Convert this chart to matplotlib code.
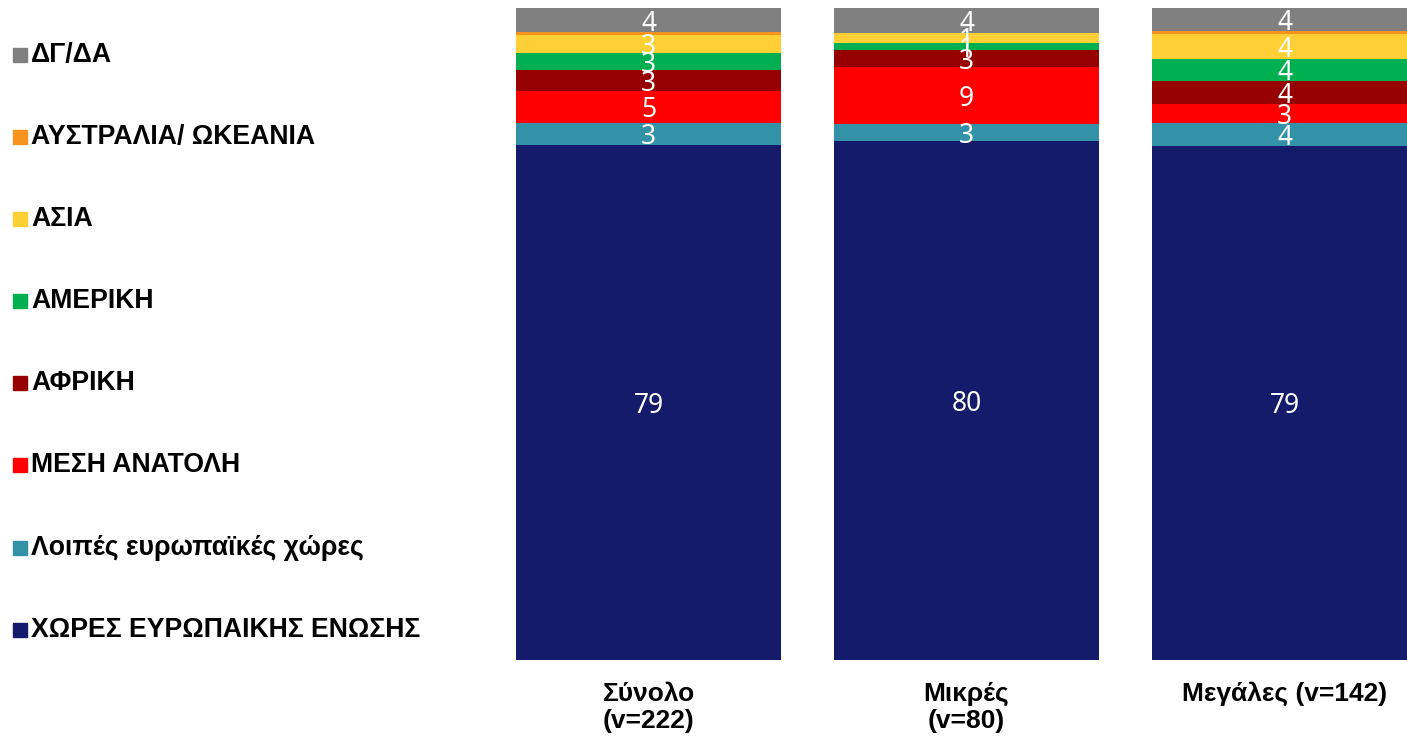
import matplotlib

matplotlib.use("Agg")
import matplotlib.pyplot as plt  # noqa: E402
from matplotlib.patches import Rectangle  # noqa: E402

groups = ["Σύνολο\n(v=222)", "Μικρές\n(v=80)", "Μεγάλες (v=142)"]

# stacked from bottom to top
series = [
    "ΧΩΡΕΣ ΕΥΡΩΠΑΙΚΗΣ ΕΝΩΣΗΣ",
    "Λοιπές ευρωπαϊκές χώρες",
    "ΜΕΣΗ ΑΝΑΤΟΛΗ",
    "ΑΦΡΙΚΗ",
    "ΑΜΕΡΙΚΗ",
    "ΑΣΙΑ",
    "ΑΥΣΤΡΑΛΙΑ/ ΩΚΕΑΝΙΑ",
    "ΔΓ/ΔΑ",
]
eu = [79.0, 79.6, 78.85]
other_europe = [3.4, 2.6, 3.5]
middle_east = [4.9, 8.7, 2.9]
africa = [3.2, 2.6, 3.5]
america = [2.6, 1.2, 3.5]
asia = [2.8, 1.4, 3.7]
oceania = [0.4, 0.0, 0.45]
dk_na = [3.7, 3.9, 3.6]
values = [eu, other_europe, middle_east, africa, america, asia, oceania, dk_na]

colors = ["#141B6A", "#3391A8", "#FF0000", "#960000", "#00AF50",
          "#FFD036", "#F7931E", "#808080"]

W, H = 1407, 739
fig = plt.figure(figsize=(W / 100, H / 100), dpi=100)
ax = fig.add_axes([516 / W, (H - 660) / H, (W - 516) / W, 652 / H])

width = 265 / 318
x = list(range(len(groups)))
bottom = [0.0] * len(groups)
for vals, col in zip(values, colors):
    ax.bar(x, vals, width=width, bottom=bottom, color=col, edgecolor="none")
    for i, v in enumerate(vals):
        if round(v) >= 1:
            ax.text(x[i], bottom[i] + v / 2, f"{round(v)}", ha="center",
                    va="center_baseline", color="white", fontsize=19,
                    family="Noto Sans")
    bottom = [b + v for b, v in zip(bottom, vals)]

ax.set_xlim(-width / 2, -width / 2 + (W - 516) / 318)
ax.set_ylim(0, 100)
ax.axis("off")

for i, g in enumerate(groups):
    ax.text(x[i], -3.3, g, ha="center", va="top", fontsize=19,
            fontweight="bold", family="Liberation Sans", linespacing=1.2)

# legend on the left, top item = last series
legend_y = [55, 137, 219, 301, 383, 465, 548, 630]
for yy, name, col in zip(legend_y, series[::-1], colors[::-1]):
    fig.patches.append(Rectangle((13 / W, (H - yy - 7) / H), 14 / W, 14 / H,
                                 transform=fig.transFigure, color=col))
    fig.text(31 / W, (H - yy) / H, name, ha="left", va="center", fontsize=19.2,
             fontweight="bold", family="Liberation Sans")

fig.savefig("out.png", dpi=100)
